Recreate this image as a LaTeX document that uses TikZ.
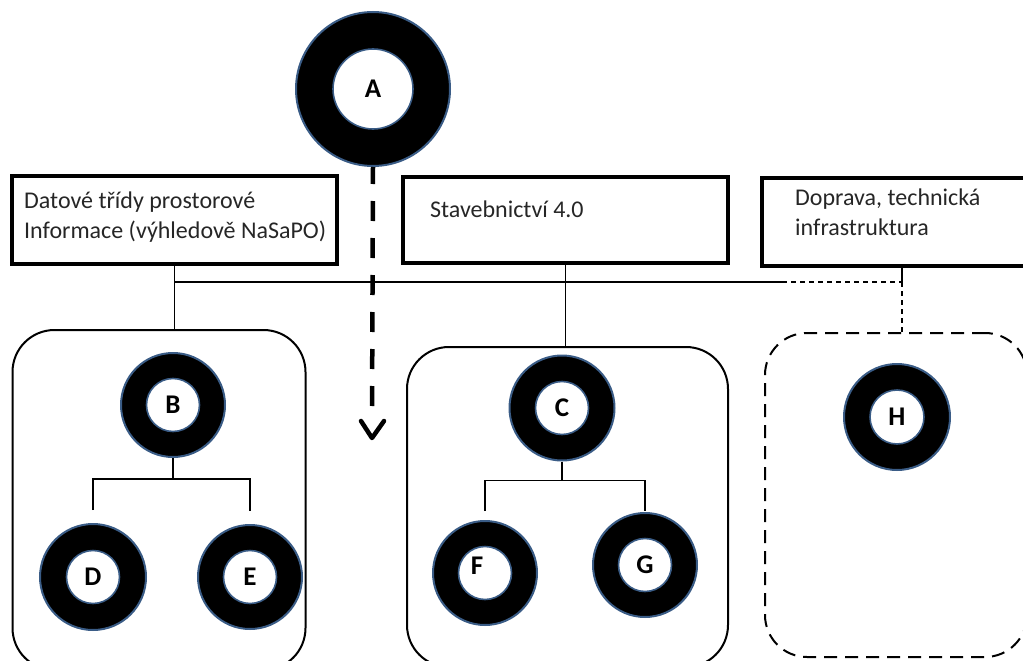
\documentclass[tikz,border=0pt]{standalone}
\usepackage{fontspec}
\setmainfont{Carlito}
\usetikzlibrary{arrows.meta,calc}
\definecolor{ringblue}{HTML}{3A5C86}
\definecolor{txt}{HTML}{262626}
\tikzset{
  outerring/.style={circle, fill=black, draw=ringblue, line width=2, inner sep=0},
  innerring/.style={circle, fill=white, draw=ringblue, line width=1.6, inner sep=0, font=\fontsize{27}{30}\selectfont\bfseries},
  titlebox/.style={draw=black, line width=3.2, inner sep=0},
  boxtext/.style={anchor=north west, align=left, inner sep=0, text=txt, font=\fontsize{24}{30}\selectfont},
  container/.style={draw=black, line width=2, rounded corners=42},
  dashcontainer/.style={draw=black, line width=2, rounded corners=42, dash pattern=on 13 off 8},
  conn/.style={draw=black, line width=1.6},
  dconn/.style={draw=black, line width=1.6, dash pattern=on 5 off 4},
}
\begin{document}
\begin{tikzpicture}[x=1pt,y=-1pt]
\useasboundingbox (0,0) rectangle (1023,661);
% title boxes
\node[titlebox, minimum width=325, minimum height=88] (box1) at (174.5,220) {};
\node[boxtext] (t1) at (24,192) {Datové třídy prostorové\\Informace (výhledově NaSaPO)};
\node[titlebox, minimum width=325, minimum height=86] (box2) at (565.5,220) {};
\node[boxtext] (t2) at (430,201) {Stavebnictví 4.0};
\node[titlebox, minimum width=280, minimum height=88] (box3) at (902,222) {};
\node[boxtext] (t3) at (795,189) {Doprava, technická\\infrastruktura};
% containers
\node[container, minimum width=293, minimum height=340] (contB) at (159,500) {};
\node[container, minimum width=321, minimum height=320] (contC) at (567.5,507) {};
\node[dashcontainer, minimum width=262, minimum height=324] (contH) at (896,495) {};
% bus
\coordinate (bus1) at (box1.south |- 0,282);
\coordinate (bus2) at (box2.south |- 0,282);
\coordinate (bus3) at (box3.south |- 0,282);
\coordinate (busd) at (782,282);
\draw[conn] (bus1) -- (busd);
\draw[dconn] (busd) -- (bus3);
\draw[conn] (box1.south) -- (box1.south |- contB.north);
\draw[conn] (box2.south) -- (box2.south |- contC.north);
\draw[conn] (box3.south) -- (bus3);
\draw[dconn] (bus3) -- (bus3 |- contH.north);
% rings
\node[outerring, minimum size=154] (A) at (373,89) {};
\node[innerring, minimum size=80] (Ai) at (A) {A};
\node[outerring, minimum size=104] (B) at (173,405) {};
\node[innerring, minimum size=53] (Bi) at (B) {B};
\node[outerring, minimum size=106] (D) at (93,577) {};
\node[innerring, minimum size=53] (Di) at (D) {D};
\node[outerring, minimum size=104] (E) at (250,577) {};
\node[innerring, minimum size=53] (Ei) at (E) {E};
\node[outerring, minimum size=105] (C) at (562,408) {};
\node[innerring, minimum size=53] (Ci) at (C) {C};
\node[outerring, minimum size=104] (F) at (485,573) {};
\node[innerring, minimum size=53] (Fi) at (F) {};
\node[font=\fontsize{27}{30}\selectfont\bfseries, inner sep=0] (Fl) at (477,566) {F};
\node[outerring, minimum size=104] (G) at (645,565) {};
\node[innerring, minimum size=53] (Gi) at (G) {G};
\node[outerring, minimum size=106] (H) at (897,417) {};
\node[innerring, minimum size=54] (Hi) at (H) {H};
% trees
\coordinate (bj) at ($(B.south)+(0,21)$);
\draw[conn] (B.south) -- (bj);
\draw[conn] ([yshift=13]D.north) |- (bj) -| ([yshift=13]E.north);
\coordinate (cj) at ($(C.south)+(0,19)$);
\draw[conn] (C.south) -- (cj);
\draw[conn] ([yshift=9]F.north) |- (cj) -| ([yshift=1]G.north);
% dashed arrow
\coordinate (aend) at (372,438);
\draw[line width=4.5, dash pattern=on 20 off 17, dash phase=3] (A.south) -- ($(aend)+(0,-20)$);
\draw[line width=4.5, line cap=round, line join=round] (361,421) -- (aend) -- (384,421);
\end{tikzpicture}
\end{document}
